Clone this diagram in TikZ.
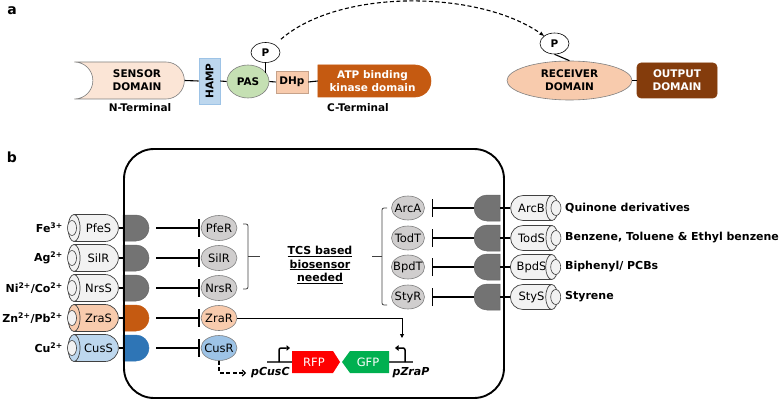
\documentclass[tikz,border=0pt]{standalone}
\usepackage{fontspec}
\setmainfont{DejaVu Sans}
\usepackage{tikz}
\usetikzlibrary{shapes.misc,shapes.geometric,arrows.meta}
\definecolor{peach}{HTML}{F8CBAD}
\definecolor{lpeach}{HTML}{FBE5D6}
\definecolor{rust}{HTML}{C55A11}
\definecolor{domainbrown}{HTML}{843C0C}
\definecolor{lblue}{HTML}{BDD7EE}
\definecolor{mblue}{HTML}{9DC3E6}
\definecolor{dblue}{HTML}{2E75B6}
\definecolor{lgreen}{HTML}{C5E0B3}
\definecolor{dgrey}{HTML}{7F7F7F}
\definecolor{rgrey}{HTML}{D0CECE}
\definecolor{cgrey}{HTML}{F2F2F2}
\definecolor{rfpred}{HTML}{FF0000}
\definecolor{gfpgreen}{HTML}{00B050}

\begin{document}
\begin{tikzpicture}[x=1pt,y=1pt,
  every node/.style={inner sep=0pt},
  dom/.style={draw=dgrey, line width=0.6pt, align=center, font=\bfseries\fontsize{10.5}{13}\selectfont},
  tag/.style={font=\bfseries\fontsize{10.5}{13}\selectfont},
  ion/.style={font=\bfseries\fontsize{11}{13}\selectfont},
  tube/.style={rounded rectangle, draw=black!75, line width=0.7pt, minimum height=27pt, font=\fontsize{11.5}{13}\selectfont},
  ltube/.style={tube, rounded rectangle left arc=none, minimum width=44pt, execute at begin node=\hspace*{5pt}},
  rtube/.style={tube, rounded rectangle right arc=none, minimum width=41pt, minimum height=25pt},
  tubeend/.style={draw=black!75, line width=0.7pt},
  tubehole/.style={draw=black!75, line width=0.6pt, fill=cgrey},
  dock/.style={rounded rectangle, minimum width=24pt, minimum height=26pt, draw=black!60, line width=0.5pt, fill=black!55},
  ldock/.style={dock, rounded rectangle left arc=none},
  rdock/.style={dock, rounded rectangle right arc=none},
  reg/.style={ellipse, draw=dgrey, line width=0.6pt, fill=rgrey, inner sep=-3pt, minimum width=36pt, minimum height=25pt, font=\fontsize{11.5}{13}\selectfont},
  rreg/.style={reg, minimum width=33pt, minimum height=24pt},
  link/.style={line width=1.1pt},
  inhib/.style={line width=1.1pt, -{Bar[width=18pt, line width=1.3pt]}},
  brace/.style={draw=black!75, line width=0.8pt, rounded corners=2pt},
  gene/.style={text=white, font=\fontsize{11.5}{13}\selectfont},
  prom/.style={line width=1.5pt, rounded corners=2pt, -{Triangle[length=3.5pt, width=5.5pt]}},
  pname/.style={font=\bfseries\itshape\fontsize{11}{13}\selectfont},
  signal/.style={line width=1.1pt, dash pattern=on 4pt off 2.5pt}
]
\useasboundingbox (0,0) rectangle (784,-401);

% a: sensor kinase and response regulator
\node[font=\bfseries\fontsize{14}{14}\selectfont] (labela) at (12,-11) {a};
\node[dom, rounded rectangle, rounded rectangle left arc=concave, fill=lpeach, minimum width=110pt, minimum height=37pt] (sensor) at (137,-80.5) {SENSOR\\DOMAIN};
\node[tag] (nterm) at (140,-108) {N-Terminal};
\node[dom, fill=lblue, draw=mblue, minimum width=21pt, minimum height=46pt] (hamp) at (209.5,-81) {\rotatebox{90}{HAMP}};
\node[dom, ellipse, fill=lgreen, minimum width=42pt, minimum height=33pt] (pas) at (248,-81.5) {PAS};
\node[dom, ellipse, draw=black, fill=white, minimum width=29pt, minimum height=20pt] (pa) at (265.5,-52.5) {P};
\node[dom, fill=peach, draw=peach!80!black, minimum width=32pt, minimum height=22pt] (dhp) at (292,-82) {DHp};
\node[dom, rounded rectangle, rounded rectangle left arc=none, fill=rust, draw=rust, text=white, minimum width=113pt, minimum height=32pt] (atp) at (372.5,-81) {ATP binding\\kinase domain};
\node[tag] (cterm) at (358,-108) {C-Terminal};
\draw[link] (sensor.east) -- (hamp.west);
\draw[link] (hamp.east) -- (pas.west);
\draw[link] (pas.east) -- (dhp.west);
\draw[link] (dhp.east) -- (atp.west);
\draw[link, shorten >=8pt] (pa.south) -- (pa.south |- pas.east);

\node[dom, ellipse, draw=black, fill=white, minimum width=29pt, minimum height=21pt] (pb) at (554.5,-43.5) {P};
\node[dom, ellipse, fill=peach, minimum width=125pt, minimum height=39pt] (receiver) at (569.5,-80.5) {RECEIVER\\DOMAIN};
\node[dom, fill=domainbrown, draw=domainbrown, text=white, rounded corners=4pt, minimum width=80pt, minimum height=35pt] (output) at (677,-80.5) {OUTPUT\\DOMAIN};
\draw[link] (pb.south) -- (receiver.north);
\draw[link] (receiver.east) -- (output.west);
\draw[signal, -{Stealth[length=5pt]}] ([shift={(5pt,6pt)}]pa.north east) .. controls (340,12) and (480,10) .. (pb.north west);

% b: two-component systems in the cell
\node[font=\bfseries\fontsize{14}{14}\selectfont] (labelb) at (12,-157) {b};

% left side
\node[ion, anchor=east] (fe) at (63,-228) {Fe\textsuperscript{3+}};
\node[ltube, fill=cgrey] (pfek) at (96,-228) {PfeS};
\draw[tubeend, fill=cgrey] (pfek.west) ellipse (6pt and 13.5pt);
\draw[tubehole] ([xshift=-2pt]pfek.west) ellipse (4.5pt and 7.5pt);
\node[ldock] (pfed) at (136,-228) {};
\node[reg] (pfer) at (219,-228) {PfeR};
\draw[link] (pfek.east) -- (pfed.west);
\draw[inhib, shorten <=7pt, shorten >=1pt] (pfed.east) -- (pfer.west);

\node[ion, anchor=east] (ag) at (63,-258) {Ag\textsuperscript{2+}};
\node[ltube, fill=cgrey] (silk) at (96,-258) {SilR};
\draw[tubeend, fill=cgrey] (silk.west) ellipse (6pt and 13.5pt);
\draw[tubehole] ([xshift=-2pt]silk.west) ellipse (4.5pt and 7.5pt);
\node[ldock] (sild) at (136,-258) {};
\node[reg] (silr) at (219,-258) {SilR};
\draw[link] (silk.east) -- (sild.west);
\draw[inhib, shorten <=7pt, shorten >=1pt] (sild.east) -- (silr.west);

\node[ion, anchor=east] (nico) at (63,-288) {Ni\textsuperscript{2+}/Co\textsuperscript{2+}};
\node[ltube, fill=cgrey] (nrsk) at (96,-288) {NrsS};
\draw[tubeend, fill=cgrey] (nrsk.west) ellipse (6pt and 13.5pt);
\draw[tubehole] ([xshift=-2pt]nrsk.west) ellipse (4.5pt and 7.5pt);
\node[ldock] (nrsd) at (136,-288) {};
\node[reg] (nrsr) at (219,-288) {NrsR};
\draw[link] (nrsk.east) -- (nrsd.west);
\draw[inhib, shorten <=7pt, shorten >=1pt] (nrsd.east) -- (nrsr.west);

\node[ion, anchor=east] (znpb) at (63,-318) {Zn\textsuperscript{2+}/Pb\textsuperscript{2+}};
\node[ltube, fill=peach] (zrak) at (96,-318) {ZraS};
\draw[tubeend, fill=peach] (zrak.west) ellipse (6pt and 13.5pt);
\draw[tubehole] ([xshift=-2pt]zrak.west) ellipse (4.5pt and 7.5pt);
\node[ldock, fill=rust, draw=rust] (zrad) at (136,-318) {};
\node[reg, fill=peach] (zrar) at (219,-318) {ZraR};
\draw[link] (zrak.east) -- (zrad.west);
\draw[inhib, shorten <=7pt, shorten >=1pt] (zrad.east) -- (zrar.west);

\node[ion, anchor=east] (cu) at (63,-348) {Cu\textsuperscript{2+}};
\node[ltube, fill=lblue] (cusk) at (96,-348) {CusS};
\draw[tubeend, fill=lblue] (cusk.west) ellipse (6pt and 13.5pt);
\draw[tubehole] ([xshift=-2pt]cusk.west) ellipse (4.5pt and 7.5pt);
\node[ldock, fill=dblue, draw=dblue] (cusd) at (136,-348) {};
\node[reg, fill=mblue] (cusr) at (219,-348) {CusR};
\draw[link] (cusk.east) -- (cusd.west);
\draw[inhib, shorten <=7pt, shorten >=1pt] (cusd.east) -- (cusr.west);

% right side
\node[ion, anchor=west] (quin) at (565,-208) {Quinone derivatives};
\node[rtube, fill=cgrey] (arck) at (531.5,-208) {ArcB};
\draw[tubeend, fill=cgrey] (arck.east) ellipse (6pt and 12.5pt);
\draw[tubehole] ([xshift=4pt]arck.east) ellipse (5pt and 7.5pt);
\node[rdock] (arcd) at (487,-208) {};
\node[rreg] (arca) at (408,-208) {ArcA};
\draw[link] (arcd.east) -- (arck.west);
\draw[inhib, shorten >=7pt] (arcd.west) -- (arca.east);

\node[ion, anchor=west] (btex) at (565,-238) {Benzene, Toluene \& Ethyl benzene};
\node[rtube, fill=cgrey] (todk) at (531.5,-238) {TodS};
\draw[tubeend, fill=cgrey] (todk.east) ellipse (6pt and 12.5pt);
\draw[tubehole] ([xshift=4pt]todk.east) ellipse (5pt and 7.5pt);
\node[rdock] (todd) at (487,-238) {};
\node[rreg] (todt) at (408,-238) {TodT};
\draw[link] (todd.east) -- (todk.west);
\draw[inhib, shorten >=7pt] (todd.west) -- (todt.east);

\node[ion, anchor=west] (pcb) at (565,-267) {Biphenyl/ PCBs};
\node[rtube, fill=cgrey] (bpdk) at (531.5,-267) {BpdS};
\draw[tubeend, fill=cgrey] (bpdk.east) ellipse (6pt and 12.5pt);
\draw[tubehole] ([xshift=4pt]bpdk.east) ellipse (5pt and 7.5pt);
\node[rdock] (bpdd) at (487,-267) {};
\node[rreg] (bpdt) at (408,-267) {BpdT};
\draw[link] (bpdd.east) -- (bpdk.west);
\draw[inhib, shorten >=7pt] (bpdd.west) -- (bpdt.east);

\node[ion, anchor=west] (sty) at (565,-297) {Styrene};
\node[rtube, fill=cgrey] (styk) at (531.5,-297) {StyS};
\draw[tubeend, fill=cgrey] (styk.east) ellipse (6pt and 12.5pt);
\draw[tubehole] ([xshift=4pt]styk.east) ellipse (5pt and 7.5pt);
\node[rdock] (styd) at (487,-297) {};
\node[rreg] (styr) at (408,-297) {StyR};
\draw[link] (styd.east) -- (styk.west);
\draw[inhib, shorten >=7pt] (styd.west) -- (styr.east);

% cell membrane
\draw[line width=1.9pt, rounded corners=30pt] (124,-149) rectangle (504,-398);

% brackets
\draw[brace] (243,-224) -- (248,-224) -- (248,-289) -- (243,-289);
\draw[brace] (248,-256) -- (260,-256);
\node[font=\bfseries\fontsize{11}{13.5}\selectfont, align=center] (tcs) at (320,-265) {\underline{TCS based}\\\underline{biosensor}\\\underline{needed}};
\draw[brace] (387,-208) -- (382,-208) -- (382,-305) -- (387,-305);
\draw[brace] (382,-256) -- (372,-256);

% reporter plasmid
\draw[line width=1.1pt, black!70] (267,-362) -- (292,-362);
\draw[line width=1.1pt, black!70] (389,-362) -- (413,-362);
\fill[rfpred] (292,-351) -- (333,-351) -- (340,-362) -- (333,-373) -- (292,-373) -- cycle;
\node[gene] (rfp) at (314,-362) {RFP};
\fill[gfpgreen] (342,-362) -- (350,-351) -- (389,-351) -- (389,-373) -- (350,-373) -- cycle;
\node[gene] (gfp) at (368,-362) {GFP};
\draw[prom] (279,-362) -- (279,-348) -- (290,-348);
\draw[prom] (405,-362) -- (405,-348) -- (395,-348);
\node[pname, anchor=west] (pcusc) at (251,-373) {pCusC};
\node[pname] (pzrap) at (411,-373) {pZraP};
\coordinate (zratop) at (402,-338);
\draw[line width=0.9pt, -{Triangle[length=4pt, width=4pt]}] (zrar.east) -| (zratop);
\draw[signal, shorten >=5pt, -{Straight Barb[length=3pt]}] (cusr.south) |- (pcusc.west);
\end{tikzpicture}
\end{document}
